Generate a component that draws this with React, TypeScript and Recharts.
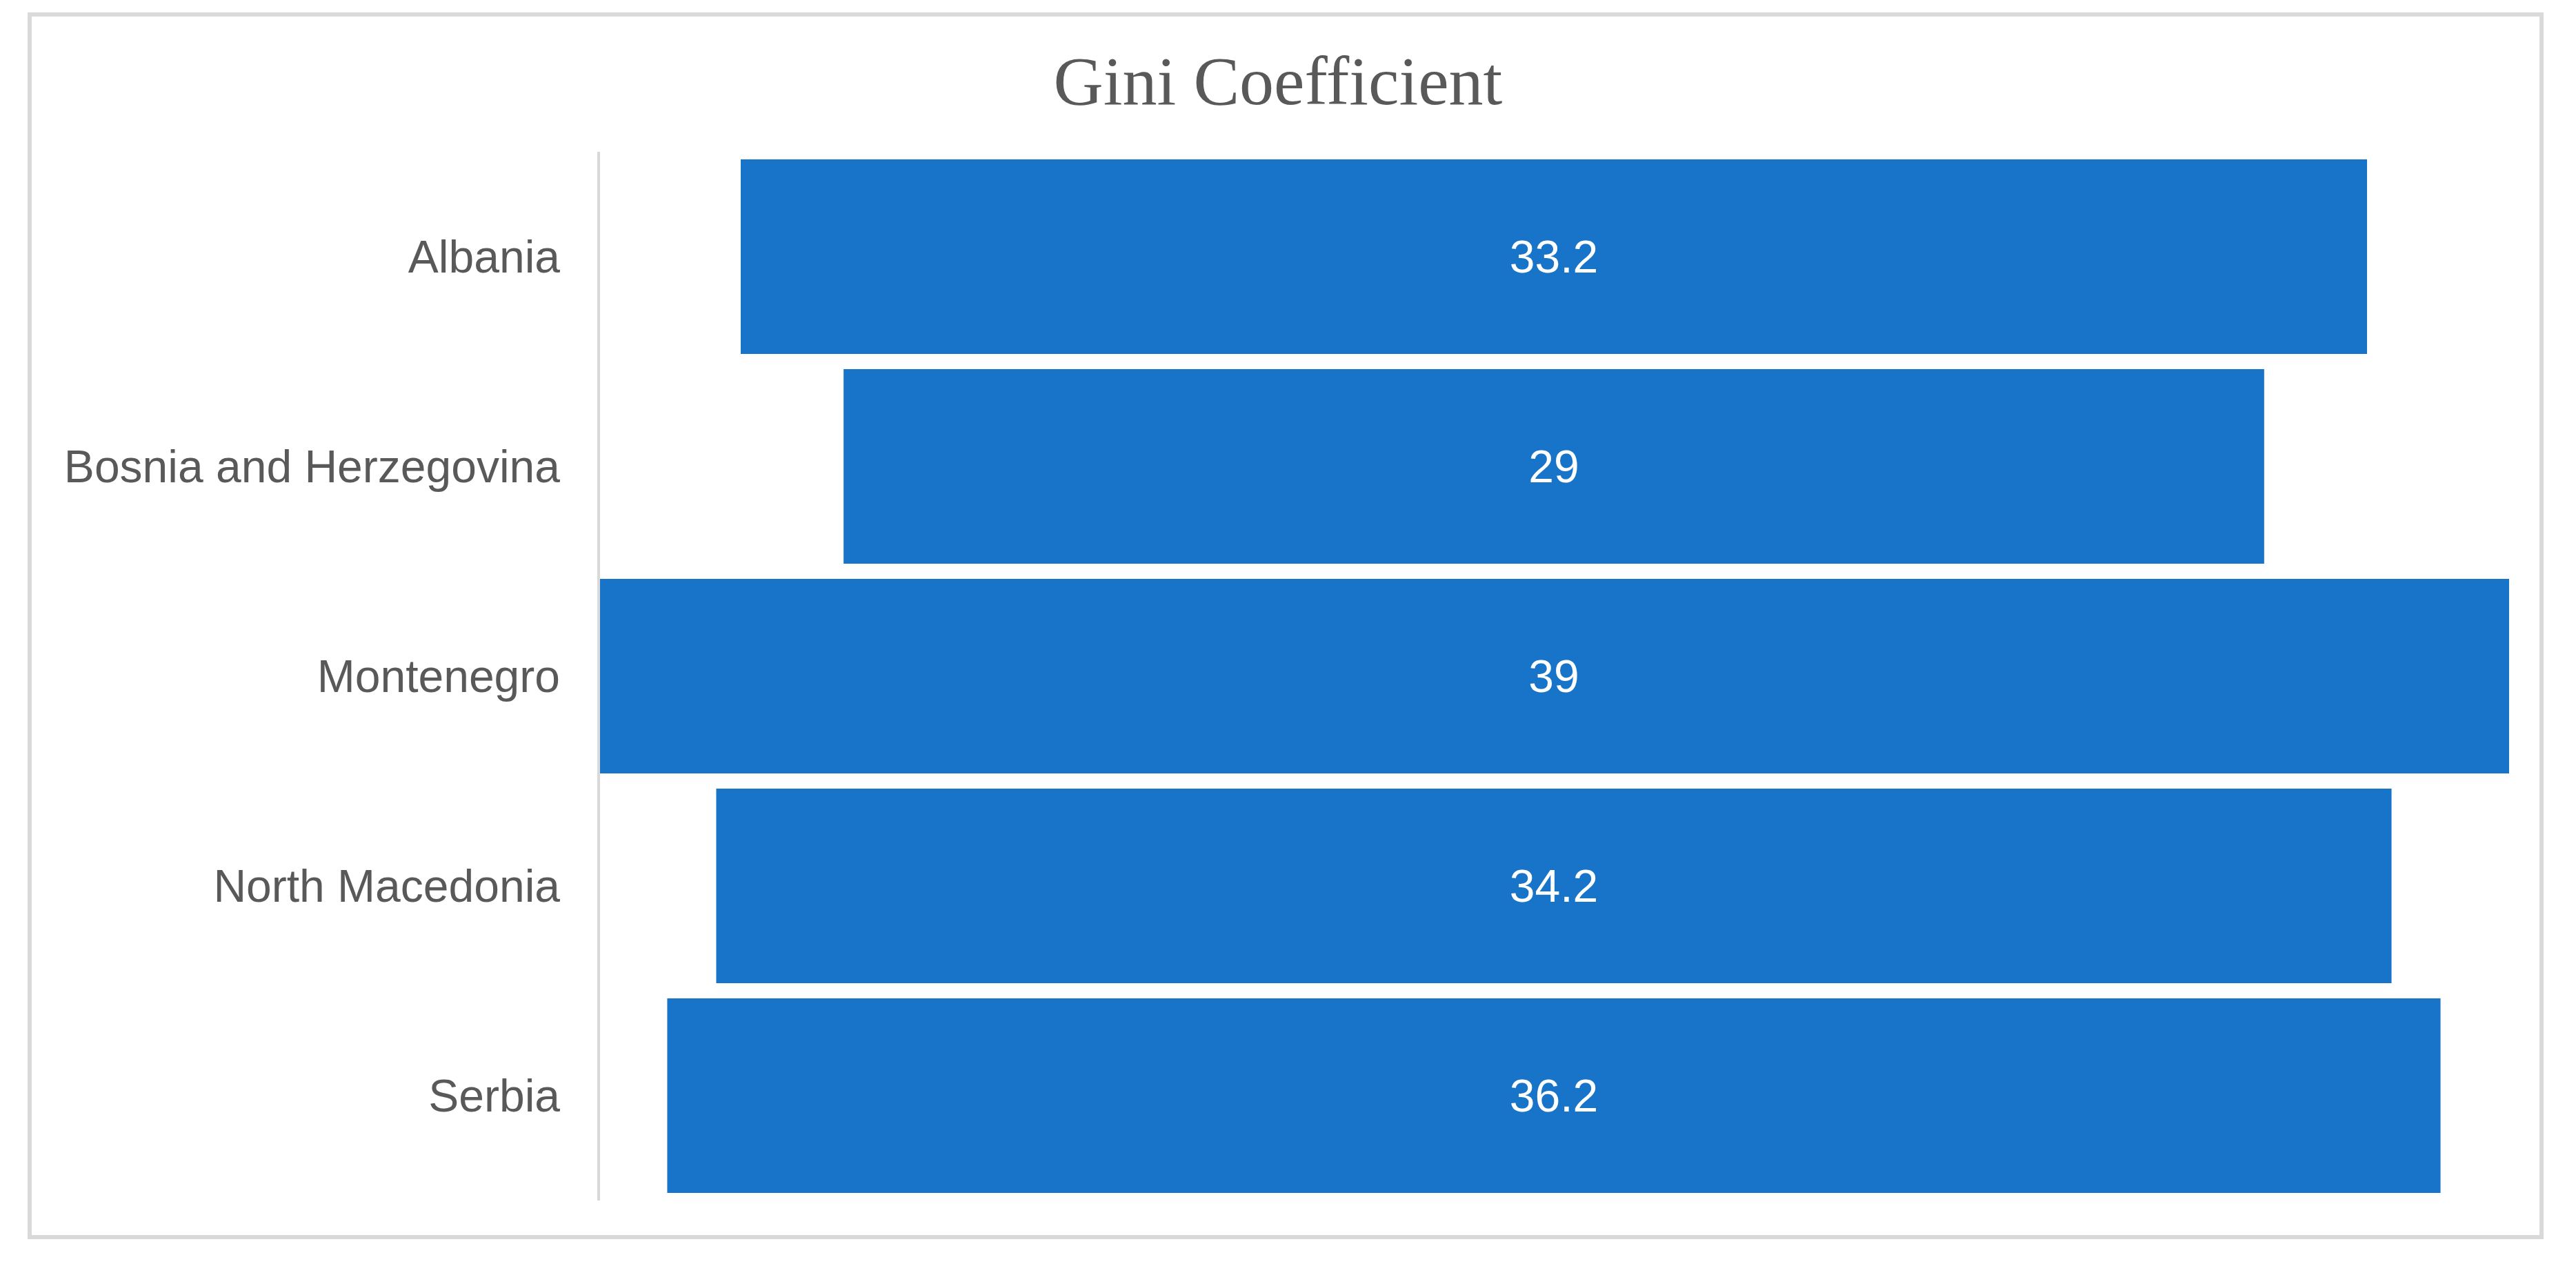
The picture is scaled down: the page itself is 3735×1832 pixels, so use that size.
import React from 'react';
import { BarChart, Bar, XAxis, YAxis, LabelList } from 'recharts';

const countries = ['Albania', 'Bosnia and Herzegovina', 'Montenegro', 'North Macedonia', 'Serbia'];
const giniValues = [33.2, 29, 39, 34.2, 36.2];

const maxGini = Math.max(...giniValues);

// centred bars: an invisible spacer pushes each bar to the middle
const rows = countries.map((name, i) => ({
  name,
  spacer: (maxGini - giniValues[i]) / 2,
  gini: giniValues[i],
}));

const textGrey = '#595959';
const barBlue = '#1874C9';

const App: React.FC = () => {
  return (
    <div style={{ position: 'absolute', left: 0, top: 0, width: 3735, height: 1832, background: '#fff' }}>
      <div
        style={{
          position: 'absolute',
          left: 40,
          top: 18,
          width: 3648,
          height: 1778,
          border: '6px solid #D9D9D9',
          boxSizing: 'border-box',
        }}
      />
      <svg style={{ position: 'absolute', left: 0, top: 0 }} width={3735} height={200}>
        <text
          x={1853}
          y={151}
          textAnchor="middle"
          fontFamily="'Liberation Serif', 'Times New Roman', serif"
          fontSize={100}
          fill={textGrey}
        >
          Gini Coefficient
        </text>
      </svg>
      <div style={{ position: 'absolute', left: 0, top: 0 }}>
        <BarChart
          width={3735}
          height={1832}
          data={rows}
          layout="vertical"
          margin={{ top: 220, right: 97, bottom: 92, left: 0 }}
          barCategoryGap={11}
        >
          <XAxis type="number" domain={[0, maxGini]} hide />
          <YAxis
            type="category"
            dataKey="name"
            width={868}
            tickLine={false}
            tickSize={0}
            tickMargin={56}
            axisLine={{ stroke: '#D9D9D9', strokeWidth: 4 }}
            tick={{ fill: textGrey, fontSize: 66, fontFamily: "'Liberation Sans', Arial, sans-serif" }}
          />
          <Bar dataKey="spacer" stackId="g" fill="transparent" isAnimationActive={false} />
          <Bar dataKey="gini" stackId="g" fill={barBlue} isAnimationActive={false}>
            <LabelList
              dataKey="gini"
              position="center"
              fill="#ffffff"
              fontSize={66}
              fontFamily="'Liberation Sans', Arial, sans-serif"
            />
          </Bar>
        </BarChart>
      </div>
    </div>
  );
};

export default App;
